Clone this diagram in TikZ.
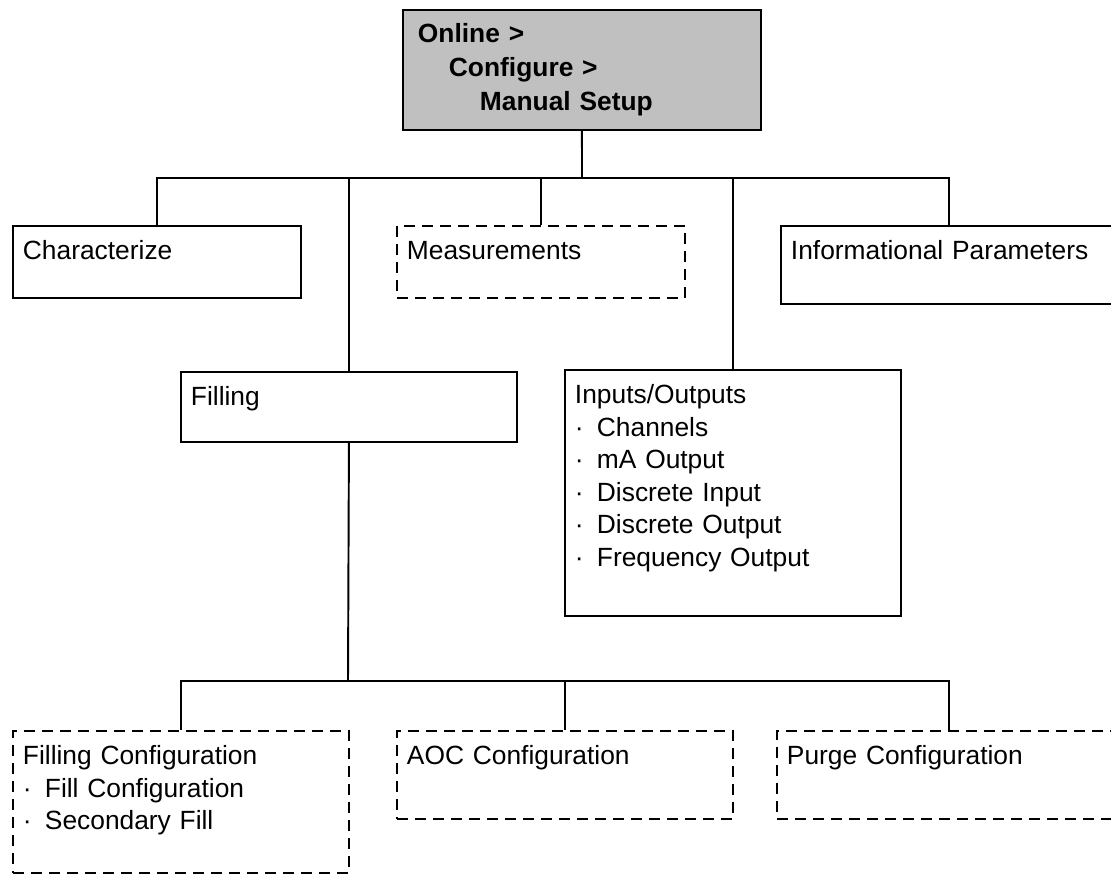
\documentclass[tikz,border=0pt]{standalone}
\usepackage{fontspec}
\setmainfont{Liberation Sans}
\usepackage{xcolor}
\usepackage{tikz}
\definecolor{menugray}{HTML}{C0C0C0}
\newcommand{\itm}{\makebox[0.44cm][l]{·}}

\begin{document}
\begin{tikzpicture}[x=0.02cm, y=-0.02cm, line width=1.1pt,
    menubox/.style={draw, anchor=north west, align=left, inner xsep=0.2cm, inner ysep=0pt,
      text height=0.68cm, font=\fontsize{15}{18.5}\selectfont},
    optbox/.style={menubox, dash pattern=on 0.22cm off 0.14cm}]
  \useasboundingbox (0,0) rectangle (1111,874);

  \node[menubox, fill=menugray, inner xsep=0.3cm, text width=6.56cm,
        text height=0.66cm, text depth=1.74cm,
        font=\bfseries\fontsize{15}{19.3}\selectfont] (setup) at (402,9) {%
    Online >\\
    \hspace*{0.62cm}Configure >\\
    \hspace*{1.24cm}Manual Setup};

  \node[menubox, text width=5.36cm, text depth=0.76cm] (char) at (12,225) {Characterize};
  \node[optbox, text width=5.36cm, text depth=0.76cm] (meas) at (396,225) {Measurements};
  \node[menubox, text width=6.32cm, text depth=0.88cm] (info) at (780,225) {Informational Parameters};
  \node[menubox, text width=6.32cm, text depth=0.72cm] (fill) at (180,371) {Filling};
  \node[menubox, text width=6.32cm, text depth=4.24cm] (io) at (564,369) {%
    Inputs/Outputs\\
    \itm Channels\\
    \itm mA Output\\
    \itm Discrete Input\\
    \itm Discrete Output\\
    \itm Frequency Output};

  \node[optbox, text width=6.32cm, text depth=2.16cm] (fillcfg) at (12,730) {%
    Filling Configuration\\
    \itm Fill Configuration\\
    \itm Secondary Fill};
  \node[optbox, text width=6.32cm, text depth=1.08cm] (aoc) at (396,730) {AOC Configuration};
  \node[optbox, text width=6.48cm, text depth=1.08cm] (purge) at (776,730) {Purge Configuration};

  \coordinate (upper) at (582,178);
  \coordinate (lower) at (348,681);
  \draw (setup.south) -- (upper);
  \foreach \n in {char,fill,meas,io,info}
    \draw (\n.north) |- (upper);
  \draw (fill.south) -- (lower);
  \foreach \n in {fillcfg,aoc,purge}
    \draw (\n.north) |- (lower);
\end{tikzpicture}
\end{document}
